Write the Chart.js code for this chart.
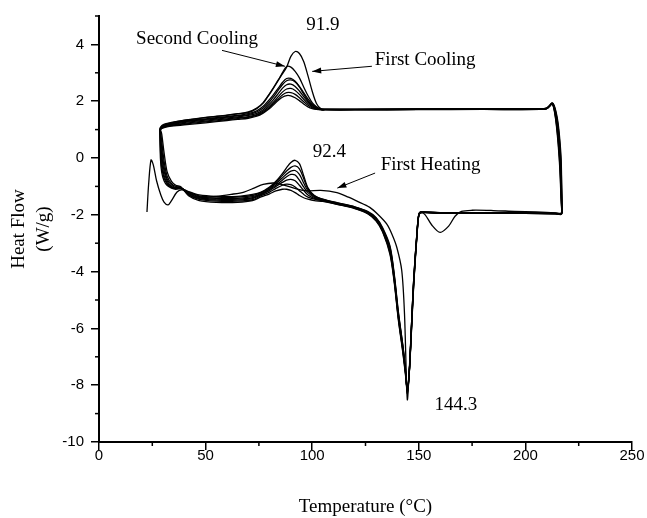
<!DOCTYPE html>
<html>
<head>
<meta charset="utf-8">
<script src="https://cdn.jsdelivr.net/npm/chart.js@4/dist/chart.umd.min.js"></script>
<style>
  body { margin: 0; background: #fff; }
  #wrap { width: 647px; height: 518px; position: relative; }
</style>
</head>
<body>
<div id="wrap"><canvas id="dscChart"></canvas></div>
<script>
// temperatures (°C) shared by the repeated heating scans
const heatTemp = [28.6, 28.8, 29.4, 30.5, 32, 34, 36, 38.5, 42, 47, 55, 65, 72, 76, 80, 83, 86, 88, 90, 92, 94, 96, 98, 101, 105,
  112, 120, 126, 130, 133, 136.5, 138.5, 140.4, 142.5, 143.7, 144.6, 145.5, 146.5, 147.6, 149.2, 150, 151, 160, 180, 200, 214, 216.5, 217.2];

// heat flow (W/g), heating scans 2..8
const heat2 = [1.0, 0.0, -0.5, -0.8, -0.97, -1.06, -1.1, -1.08, -1.18, -1.3, -1.35, -1.35, -1.28,
  -1.2, -1.02, -0.82, -0.55, -0.34, -0.16, -0.08, -0.2, -0.62, -1.05, -1.32, -1.45,
  -1.58, -1.72, -1.88, -2.1, -2.45, -3.1, -4.1, -5.4, -6.6, -7.4, -8.3, -7.6, -6.0, -4.3, -2.56, -1.98, -1.9,
  -1.92, -1.92, -1.92, -1.94, -1.96, -1.92];
const heat3 = [1.0, 0.3, -0.3, -0.7, -0.92, -1.04, -1.08, -1.07, -1.2, -1.33, -1.38, -1.38, -1.32,
  -1.22, -1.05, -0.86, -0.62, -0.46, -0.33, -0.28, -0.38, -0.72, -1.08, -1.33, -1.46,
  -1.59, -1.73, -1.9, -2.12, -2.48, -3.15, -4.15, -5.45, -6.6, -7.4, -8.2, -7.55, -6.0, -4.3, -2.58, -1.99, -1.9,
  -1.93, -1.93, -1.93, -1.95, -1.96, -1.92];
const heat4 = [1.02, 0.5, -0.1, -0.6, -0.88, -1.02, -1.07, -1.06, -1.22, -1.36, -1.42, -1.42, -1.36,
  -1.25, -1.08, -0.9, -0.7, -0.56, -0.46, -0.44, -0.58, -0.88, -1.15, -1.36, -1.47,
  -1.6, -1.74, -1.9, -2.14, -2.5, -3.2, -4.2, -5.5, -6.65, -7.45, -8.25, -7.6, -6.05, -4.35, -2.6, -2.0, -1.91,
  -1.93, -1.93, -1.93, -1.95, -1.97, -1.93];
const heat5 = [1.02, 0.7, 0.1, -0.45, -0.82, -1.0, -1.06, -1.06, -1.25, -1.4, -1.45, -1.45, -1.4,
  -1.27, -1.11, -0.95, -0.78, -0.66, -0.58, -0.6, -0.78, -1.02, -1.22, -1.39, -1.48,
  -1.61, -1.75, -1.92, -2.16, -2.52, -3.25, -4.25, -5.55, -6.7, -7.5, -8.15, -7.55, -6.1, -4.4, -2.62, -2.0, -1.91,
  -1.94, -1.94, -1.94, -1.96, -1.97, -1.93];
const heat6 = [1.03, 0.85, 0.35, -0.3, -0.75, -0.95, -1.04, -1.05, -1.28, -1.43, -1.48, -1.48, -1.43,
  -1.3, -1.15, -1.0, -0.86, -0.78, -0.75, -0.8, -0.96, -1.14, -1.3, -1.42, -1.49,
  -1.62, -1.76, -1.93, -2.18, -2.55, -3.3, -4.3, -5.6, -6.75, -7.5, -8.2, -7.6, -6.1, -4.4, -2.63, -2.01, -1.92,
  -1.94, -1.94, -1.94, -1.96, -1.98, -1.94];
const heat7 = [1.04, 0.95, 0.6, -0.1, -0.65, -0.9, -1.0, -1.04, -1.3, -1.46, -1.52, -1.52, -1.47,
  -1.33, -1.2, -1.07, -0.96, -0.92, -0.94, -1.02, -1.15, -1.28, -1.38, -1.45, -1.51,
  -1.63, -1.77, -1.95, -2.2, -2.58, -3.35, -4.35, -5.65, -6.8, -7.55, -8.1, -7.55, -6.15, -4.45, -2.65, -2.02, -1.92,
  -1.95, -1.95, -1.95, -1.97, -1.98, -1.94];
const heat8 = [1.05, 1.0, 0.85, 0.2, -0.5, -0.82, -0.96, -1.02, -1.33, -1.5, -1.56, -1.56, -1.5,
  -1.37, -1.26, -1.16, -1.1, -1.1, -1.14, -1.22, -1.32, -1.4, -1.45, -1.5, -1.53,
  -1.64, -1.78, -1.96, -2.22, -2.6, -3.4, -4.4, -5.7, -6.85, -7.6, -8.15, -7.6, -6.2, -4.5, -2.68, -2.03, -1.93,
  -1.95, -1.95, -1.95, -1.97, -1.99, -1.95];

// first heating has its own temperature points
const firstHeatTemp = [22.5, 23.3, 24.4, 25.5, 27, 29, 30.5, 32.4, 34, 36.6, 39, 42, 47, 55, 62, 68, 73, 77, 81.6, 85, 88, 93, 97.5,
  104, 111.6, 117, 121, 127, 131, 135, 137.5, 139.7, 142, 143.3, 144.6, 145.5, 146.5, 147.6, 149.2, 150, 151,
  153, 156, 160, 164, 167, 170, 175, 185, 195, 205, 214, 216.5, 217.2];
const firstHeat = [-1.9, -0.9, -0.07, -0.25, -0.8, -1.3, -1.55, -1.65, -1.5, -1.2, -1.12, -1.25, -1.38, -1.35, -1.28, -1.2,
  -1.05, -0.93, -0.88, -0.92, -0.98, -1.1, -1.16,
  -1.14, -1.22, -1.38, -1.52, -1.74, -2.0, -2.33, -2.7, -3.15, -3.96, -5.5, -8.5, -7.5, -6.0, -4.3, -2.56, -2.0, -1.9,
  -2.0, -2.35, -2.62, -2.4, -2.05, -1.88, -1.84, -1.85, -1.88, -1.9, -1.93, -1.95, -1.9];

// cooling scans, temperature going down
const coolTemp = [217.2, 216.8, 216.2, 215.3, 214.3, 213.3, 212.5, 211.5, 210, 207, 180, 150, 120, 106,
  104, 102, 100, 98, 96, 94, 92, 90, 88, 86, 84, 82, 80, 77, 74, 70, 65, 60, 50, 40, 34, 31, 29.5, 28.6];

const cool1 = [-1.92, -0.1, 0.6, 1.25, 1.65, 1.88, 1.94, 1.86, 1.76, 1.73, 1.74, 1.73, 1.72, 1.72,
  1.74, 1.92, 2.35, 2.9, 3.4, 3.68, 3.75, 3.58, 3.2, 2.96, 2.74, 2.5, 2.27, 1.95, 1.76, 1.62,
  1.56, 1.51, 1.43, 1.33, 1.25, 1.2, 1.14, 1.05];
const cool2 = [-1.92, -0.4, 0.45, 1.15, 1.6, 1.86, 1.93, 1.86, 1.76, 1.73, 1.73, 1.72, 1.71, 1.71,
  1.72, 1.8, 1.95, 2.2, 2.5, 2.82, 3.05, 3.2, 3.22, 3.0, 2.72, 2.48, 2.25, 1.93, 1.74, 1.6,
  1.55, 1.5, 1.42, 1.32, 1.24, 1.18, 1.12, 1.04];
const cool3 = [-1.93, -0.7, 0.3, 1.05, 1.55, 1.85, 1.93, 1.85, 1.75, 1.72, 1.73, 1.72, 1.71, 1.71,
  1.71, 1.76, 1.86, 2.02, 2.25, 2.5, 2.7, 2.8, 2.8, 2.66, 2.45, 2.25, 2.06, 1.82, 1.66, 1.56,
  1.5, 1.46, 1.38, 1.3, 1.22, 1.16, 1.1, 1.03];
const cool4 = [-1.93, -0.9, 0.15, 0.95, 1.5, 1.83, 1.92, 1.85, 1.75, 1.72, 1.72, 1.72, 1.7, 1.71,
  1.72, 1.78, 1.9, 2.08, 2.3, 2.52, 2.68, 2.75, 2.72, 2.58, 2.38, 2.17, 1.98, 1.76, 1.62, 1.53,
  1.48, 1.44, 1.36, 1.28, 1.2, 1.15, 1.09, 1.02];
const cool5 = [-1.94, -1.1, 0.0, 0.85, 1.45, 1.82, 1.92, 1.84, 1.75, 1.72, 1.72, 1.71, 1.7, 1.7,
  1.71, 1.75, 1.84, 1.98, 2.16, 2.36, 2.52, 2.6, 2.58, 2.45, 2.26, 2.07, 1.9, 1.7, 1.57, 1.5,
  1.45, 1.41, 1.33, 1.25, 1.18, 1.13, 1.08, 1.01];
const cool6 = [-1.94, -1.3, -0.15, 0.75, 1.4, 1.8, 1.91, 1.84, 1.74, 1.72, 1.72, 1.71, 1.7, 1.7,
  1.7, 1.73, 1.8, 1.92, 2.07, 2.24, 2.38, 2.45, 2.43, 2.32, 2.15, 1.98, 1.83, 1.65, 1.53, 1.46,
  1.42, 1.38, 1.3, 1.22, 1.16, 1.11, 1.06, 1.0];
const cool7 = [-1.94, -1.45, -0.3, 0.65, 1.35, 1.78, 1.9, 1.84, 1.74, 1.71, 1.71, 1.71, 1.7, 1.7,
  1.7, 1.72, 1.77, 1.86, 1.98, 2.12, 2.24, 2.3, 2.3, 2.22, 2.07, 1.92, 1.78, 1.61, 1.5, 1.43,
  1.39, 1.35, 1.27, 1.2, 1.14, 1.1, 1.05, 0.99];
const cool8 = [-1.95, -1.6, -0.45, 0.55, 1.3, 1.76, 1.9, 1.83, 1.74, 1.71, 1.71, 1.7, 1.7, 1.7,
  1.7, 1.71, 1.74, 1.8, 1.9, 2.02, 2.12, 2.19, 2.2, 2.14, 2.02, 1.88, 1.74, 1.58, 1.47, 1.4,
  1.36, 1.32, 1.24, 1.17, 1.12, 1.08, 1.04, 0.98];

const minorXTicks = [25, 75, 125, 175, 225];
const minorYTicks = [-9, -7, -5, -3, -1, 1, 3, 5];

// text labels with arrows, placed in data units
const notes = [
  { text: '91.9', x: 105, y: 4.67 },
  { text: 'Second Cooling', x: 46, y: 4.18, from: [57.7, 3.79], to: [87.2, 3.23] },
  { text: 'First Cooling', x: 153, y: 3.44, from: [128, 3.23], to: [100, 3.05] },
  { text: '92.4', x: 108, y: 0.21 },
  { text: 'First Heating', x: 155.5, y: -0.25, from: [129.5, -0.53], to: [111.8, -1.06] },
  { text: '144.3', x: 167.4, y: -8.7 }
];

function curve(temps, vals) {
  return {
    data: temps.map((t, i) => ({ x: t, y: vals[i] })),
    showLine: true,
    borderColor: '#000',
    borderWidth: 1.3,
    pointRadius: 0,
    tension: 0.3,
    fill: false
  };
}

const serif = 'Liberation Serif, Times New Roman, serif';
const sans = 'Liberation Sans, Arial, sans-serif';

const extras = {
  id: 'extras',
  afterDraw(chart) {
    const c = chart.ctx, xs = chart.scales.x, ys = chart.scales.y;
    const area = chart.chartArea;
    c.save();
    c.strokeStyle = '#000';
    c.lineWidth = 1.5;
    minorXTicks.forEach(v => {
      const px = xs.getPixelForValue(v);
      c.beginPath(); c.moveTo(px, area.bottom); c.lineTo(px, area.bottom + 4); c.stroke();
    });
    minorYTicks.forEach(v => {
      const py = ys.getPixelForValue(v);
      c.beginPath(); c.moveTo(area.left - 4, py); c.lineTo(area.left, py); c.stroke();
    });
    c.fillStyle = '#000';
    c.font = '19px ' + serif;
    c.textAlign = 'center';
    c.textBaseline = 'middle';
    notes.forEach(n => {
      c.fillText(n.text, xs.getPixelForValue(n.x), ys.getPixelForValue(n.y));
      if (n.from) {
        const x1 = xs.getPixelForValue(n.from[0]), y1 = ys.getPixelForValue(n.from[1]);
        const x2 = xs.getPixelForValue(n.to[0]), y2 = ys.getPixelForValue(n.to[1]);
        c.lineWidth = 1;
        c.beginPath(); c.moveTo(x1, y1); c.lineTo(x2, y2); c.stroke();
        const a = Math.atan2(y2 - y1, x2 - x1);
        c.beginPath();
        c.moveTo(x2, y2);
        c.lineTo(x2 - 9 * Math.cos(a) + 3 * Math.sin(a), y2 - 9 * Math.sin(a) - 3 * Math.cos(a));
        c.lineTo(x2 - 9 * Math.cos(a) - 3 * Math.sin(a), y2 - 9 * Math.sin(a) + 3 * Math.cos(a));
        c.closePath();
        c.fill();
      }
    });
    c.restore();
  }
};

const ctx = document.getElementById('dscChart').getContext('2d');
new Chart(ctx, {
  type: 'scatter',
  data: {
    datasets: [
      curve(firstHeatTemp, firstHeat), curve(coolTemp, cool1),
      curve(heatTemp, heat2), curve(coolTemp, cool2),
      curve(heatTemp, heat3), curve(coolTemp, cool3),
      curve(heatTemp, heat4), curve(coolTemp, cool4),
      curve(heatTemp, heat5), curve(coolTemp, cool5),
      curve(heatTemp, heat6), curve(coolTemp, cool6),
      curve(heatTemp, heat7), curve(coolTemp, cool7),
      curve(heatTemp, heat8), curve(coolTemp, cool8)
    ]
  },
  options: {
    responsive: true,
    maintainAspectRatio: false,
    animation: false,
    layout: { padding: { top: 15, right: 15, left: 0, bottom: 0 } },
    plugins: { legend: { display: false }, tooltip: { enabled: false } },
    scales: {
      x: {
        type: 'linear',
        min: 0,
        max: 250,
        ticks: { stepSize: 50, color: '#000', padding: -3, maxRotation: 0, font: { family: sans, size: 15 } },
        grid: { drawOnChartArea: false, tickLength: 8, color: '#000', lineWidth: 1.5 },
        border: { color: '#000', width: 2 },
        title: { display: true, text: 'Temperature (°C)', color: '#000', padding: { top: 0, bottom: 0 },
          font: { family: serif, size: 19 } },
        afterFit(scale) { scale.height = 76; }
      },
      y: {
        min: -10,
        max: 5,
        ticks: { stepSize: 2, includeBounds: false, color: '#000', padding: 7, font: { family: sans, size: 15 } },
        grid: { drawOnChartArea: false, tickLength: 8, color: '#000', lineWidth: 1.5 },
        border: { color: '#000', width: 2 },
        title: { display: true, text: ['Heat Flow', '(W/g)'], color: '#000', padding: { top: 7, bottom: 0 },
          font: { family: serif, size: 19, lineHeight: 1.3 } },
        afterFit(scale) { scale.width = 99; }
      }
    }
  },
  plugins: [extras]
});
</script>
</body>
</html>
